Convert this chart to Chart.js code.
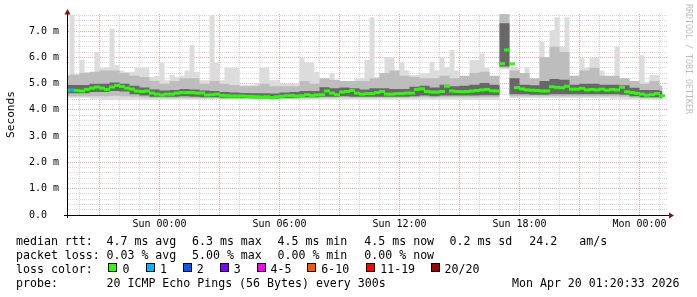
<!DOCTYPE html>
<html>
<head>
<meta charset="utf-8">
<script src="https://cdn.jsdelivr.net/npm/chart.js@4/dist/chart.umd.min.js"></script>
<style>
  html, body { margin: 0; padding: 0; background: #fff; }
  #wrap { position: relative; width: 697px; height: 297px; background: #fff; overflow: hidden; }
  #c { position: absolute; left: 0; top: 0; display: block; }
  .t { position: absolute; font-family: "DejaVu Sans Mono", monospace; font-size: 11.6px; line-height: 14px; height: 14px; white-space: pre; color: #000; }
  .box { position: absolute; width: 7px; height: 7px; border: 1px solid #000; }
  #wm { position: absolute; left: 684px; top: 4px; font-family: "DejaVu Sans Mono", monospace; font-size: 8.3px; line-height: 9px; color: #bcbcbc; writing-mode: vertical-rl; white-space: pre; }
</style>
</head>
<body>
<div id="wrap">
  <canvas id="c" width="697" height="297"></canvas>
  <div id="wm">RRDTOOL / TOBI OETIKER</div>
  <div id="legend"></div>
</div>
<script>
// ---------- time grid (hours relative to Sun 00:00) ----------
const T0 = -5;          // first step start
const T_END = 25.15;    // last sample
const FINE_STEP = 0.25; // median / max series step
const BAND_STEP = 0.5;  // smoke band series step
const X_MIN = -4.625, X_MAX = 25.425;

// ---------- median RTT (ms), one value per 15 min ----------
const medianMs = [
 4.75,4.75,4.76,4.74,4.72,4.78,4.83,4.87,4.83,4.78,
 4.87,4.93,4.89,4.83,4.79,4.72,4.70,4.72,4.64,4.60,
 4.57,4.60,4.60,4.64,4.66,4.66,4.66,4.64,4.64,4.57,
 4.58,4.60,4.55,4.54,4.53,4.53,4.53,4.52,4.51,4.50,
 4.49,4.50,4.47,4.50,4.52,4.54,4.55,4.53,4.54,4.58,
 4.55,4.57,4.58,4.72,4.64,4.58,4.68,4.70,4.74,4.64,
 4.60,4.62,4.62,4.66,4.70,4.60,4.60,4.62,4.62,4.64,
 4.64,4.78,4.80,4.70,4.68,4.68,4.70,4.90,4.72,4.70,
 4.69,4.70,4.72,4.74,4.76,4.78,4.73,4.72,5.76,6.28,
 5.75,4.85,4.80,4.76,4.75,4.74,4.72,4.72,4.88,4.86,
 4.84,4.90,4.79,4.79,4.82,4.76,4.78,4.76,4.79,4.75,
 4.78,4.76,4.86,4.69,4.66,4.63,4.60,4.56,4.58,4.62,
 4.54];

// ---------- max RTT (ms), one value per 15 min ----------
const maxMs = [
 5.33,5.33,7.60,5.25,5.90,5.44,5.44,6.20,5.60,5.63,
 7.10,5.70,5.50,5.44,5.44,5.60,5.60,5.60,5.25,5.30,
 5.80,5.13,5.33,5.25,5.30,5.50,6.47,5.44,5.13,5.13,
 7.60,5.80,5.13,5.60,5.60,5.60,4.95,4.95,4.95,5.00,
 5.60,5.60,5.13,5.13,5.00,5.00,5.00,5.00,5.97,5.80,
 5.80,5.44,5.13,5.13,5.40,5.06,5.06,5.00,5.00,5.20,
 5.20,5.90,7.53,5.25,5.25,6.00,6.00,5.50,5.83,5.50,
 5.33,5.33,5.40,5.40,5.83,5.50,6.00,5.63,6.28,5.50,
 5.25,5.25,5.90,5.90,6.15,5.60,5.25,5.25,7.70,7.70,
 5.63,5.63,5.00,5.63,5.13,5.13,6.58,5.97,7.03,7.53,
 6.40,7.53,5.25,5.25,5.97,5.60,5.97,5.97,5.50,5.20,
 5.20,6.40,5.20,5.20,5.00,5.00,6.08,5.06,5.33,5.33,
 4.95];

// ---------- smoke bands (ms), one value per 30 min ----------
const minMs = [
 4.46,4.46,4.46,4.42,4.38,4.38,4.38,4.38,4.38,4.38,
 4.40,4.40,4.40,4.40,4.42,4.42,4.40,4.40,4.40,4.40,
 4.40,4.38,4.40,4.40,4.40,4.40,4.40,4.40,4.40,4.40,
 4.40,4.40,4.40,4.40,4.40,4.40,4.40,4.40,4.40,4.40,
 4.38,4.38,4.38,4.38,5.55,4.45,4.45,4.45,4.45,4.45,
 4.45,4.45,4.45,4.45,4.45,4.42,4.40,4.40,4.40,4.40,
 4.40];
const loMs = [
 4.52,4.52,4.52,4.52,4.52,4.54,4.52,4.50,4.47,4.45,
 4.44,4.44,4.45,4.44,4.44,4.44,4.42,4.42,4.42,4.42,
 4.42,4.41,4.42,4.42,4.44,4.44,4.46,4.46,4.47,4.46,
 4.46,4.46,4.46,4.46,4.46,4.47,4.48,4.47,4.48,4.48,
 4.47,4.47,4.48,4.48,5.60,4.52,4.52,4.52,4.52,4.52,
 4.52,4.52,4.52,4.52,4.52,4.52,4.50,4.46,4.44,4.44,
 4.42];
const q1Ms = [
 4.63,4.63,4.63,4.68,4.68,4.72,4.70,4.60,4.55,4.50,
 4.50,4.50,4.52,4.50,4.48,4.48,4.46,4.46,4.45,4.44,
 4.44,4.43,4.45,4.46,4.48,4.48,4.50,4.50,4.52,4.50,
 4.50,4.50,4.50,4.50,4.50,4.52,4.55,4.52,4.55,4.55,
 4.55,4.55,4.56,4.56,5.65,4.60,4.60,4.58,4.58,4.60,
 4.60,4.60,4.60,4.60,4.60,4.60,4.58,4.52,4.48,4.48,
 4.46];
const q3Ms = [
 4.95,4.95,4.95,5.00,5.00,5.04,5.00,4.92,4.85,4.78,
 4.74,4.76,4.80,4.78,4.74,4.72,4.68,4.66,4.64,4.63,
 4.63,4.62,4.66,4.68,4.72,4.72,4.86,4.82,4.85,4.82,
 4.78,4.82,4.82,4.80,4.80,4.88,4.92,4.85,4.96,4.90,
 4.92,4.96,5.02,4.96,7.30,5.20,4.96,4.94,5.10,5.18,
 5.15,4.96,5.00,5.00,4.96,4.96,4.94,4.84,4.76,4.76,
 4.72];
const hiMs = [
 5.30,5.35,5.40,5.45,5.50,5.50,5.40,5.30,5.25,5.10,
 5.00,5.10,5.20,5.20,5.00,5.10,5.00,4.95,4.90,4.90,
 5.00,4.90,4.90,4.90,5.10,5.00,5.20,5.15,5.10,5.10,
 5.10,5.20,5.40,5.50,5.30,5.25,5.20,5.20,5.30,5.20,
 5.30,5.40,5.45,5.30,7.65,5.50,5.40,5.20,6.00,6.40,
 6.20,5.30,5.50,5.60,5.30,5.30,5.20,5.10,5.00,5.10,
 4.90];

// ---------- packet loss events (start of the 15-min step) ----------
const lossTimes  = [-4.5];
const lossCounts = [1];
const lossLabels = ['0','1','2','3','4-5','6-10','11-19','20/20'];
const lossColors = ['#26ff00','#00b8ff','#0059ff','#7e00ff','#ff00ff','#ff5500','#ff0000','#a10000'];

// ---------- axis labels ----------
const yLabelValues = [0,1,2,3,4,5,6,7];
const yLabelText   = ['0.0','1.0 m','2.0 m','3.0 m','4.0 m','5.0 m','6.0 m','7.0 m'];
const xLabelHours  = [0,6,12,18,24];
const xLabelText   = ['Sun 00:00','Sun 06:00','Sun 12:00','Sun 18:00','Mon 00:00'];

// ---------- legend texts ----------
const legendRows = [
  [[16,'median rtt:'],[106.5,'4.7 ms avg'],[192,'6.3 ms max'],[277.5,'4.5 ms min'],[364.3,'4.5 ms now'],[449.5,'0.2 ms sd'],[529.3,'24.2'],[579.3,'am/s']],
  [[16,'packet loss:'],[106.5,'0.03 % avg'],[192,'5.00 % max'],[277.5,'0.00 % min'],[364.3,'0.00 % now']],
  [[16,'loss color:']],
  [[16,'probe:'],[106.5,'20 ICMP Echo Pings (56 Bytes) every 300s'],[512,'Mon Apr 20 01:20:33 2026']]
];
const rowTops = [234, 248, 262, 276];
const lossBoxX  = [108,146,183,219.5,257,307,366,431];
const lossTextX = [122.5,160,196.8,233.8,270.5,321.2,380.2,444.5];

// build legend (HTML text)
const lg = document.getElementById('legend');
legendRows.forEach((row, r) => {
  row.forEach(([x, s]) => {
    const d = document.createElement('div');
    d.className = 't'; d.style.left = x + 'px'; d.style.top = rowTops[r] + 'px';
    d.textContent = s; lg.appendChild(d);
  });
});
lossLabels.forEach((lab, k) => {
  const b = document.createElement('div');
  b.className = 'box'; b.style.left = lossBoxX[k] + 'px'; b.style.top = '263px';
  b.style.background = lossColors[k]; lg.appendChild(b);
  const d = document.createElement('div');
  d.className = 't'; d.style.left = lossTextX[k] + 'px'; d.style.top = rowTops[2] + 'px';
  d.textContent = lab; lg.appendChild(d);
});

// ---------- helpers ----------
function pts(step, vals) {
  const out = vals.map((v, i) => ({x: T0 + step * i, y: v}));
  out.push({x: T_END, y: vals[vals.length - 1]});
  return out;
}
// median drawn as short horizontal dashes, one per step (centred in its step)
function stepMarks(step, vals) {
  return vals.map((v, i) => ({x: T0 + step * i + step / 2, y: v, start: T0 + step * i}));
}
function lossColorAt(t) {
  for (let k = 0; k < lossTimes.length; k++) {
    if (Math.abs(lossTimes[k] - t) < 1e-6) {
      const c = lossCounts[k];
      const idx = c <= 0 ? 0 : c === 1 ? 1 : c === 2 ? 2 : c === 3 ? 3 : c <= 5 ? 4 : c <= 10 ? 5 : c <= 19 ? 6 : 7;
      return lossColors[idx];
    }
  }
  return lossColors[0];
}
const isInt = v => Math.abs(v - Math.round(v)) < 1e-6;

const MAJOR = 'rgba(230,130,130,0.7)';
const MINOR = 'rgba(200,200,200,0.75)';
const FONT = 'DejaVu Sans Mono';
Chart.defaults.font.family = FONT;

const arrows = {
  id: 'arrows',
  afterDraw(chart) {
    const {ctx, chartArea: {left, right, top, bottom}} = chart;
    ctx.save();
    ctx.strokeStyle = '#000'; ctx.lineWidth = 1;
    ctx.beginPath();
    ctx.moveTo(left - 3, bottom + 0.5); ctx.lineTo(right + 2, bottom + 0.5);
    ctx.moveTo(left + 0.5, bottom + 3); ctx.lineTo(left + 0.5, top - 2);
    ctx.stroke();
    ctx.fillStyle = '#8a1010';
    ctx.beginPath();
    ctx.moveTo(left + 0.5, top - 5); ctx.lineTo(left - 2.5, top + 0.5); ctx.lineTo(left + 3.5, top + 0.5); ctx.closePath();
    ctx.fill();
    ctx.beginPath();
    ctx.moveTo(right + 6, bottom + 0.5); ctx.lineTo(right + 1, bottom - 2.5); ctx.lineTo(right + 1, bottom + 3.5); ctx.closePath();
    ctx.fill();
    ctx.restore();
  }
};

const band = (data, color) => ({data, stepped: true, borderWidth: 0, pointRadius: 0, fill: '+1', backgroundColor: color, borderColor: 'rgba(0,0,0,0)'});
const edge = (data) => ({data, stepped: true, borderWidth: 0, pointRadius: 0, fill: false, borderColor: 'rgba(0,0,0,0)'});

new Chart(document.getElementById('c').getContext('2d'), {
  type: 'line',
  data: {
    datasets: [
      {label: 'median', data: stepMarks(FINE_STEP, medianMs), showLine: false, fill: false,
       pointStyle: 'line', pointRadius: 3, pointHoverRadius: 3, pointBorderWidth: 3,
       pointBorderColor: c => (c.raw ? lossColorAt(c.raw.start) : lossColors[0])},
      band(pts(BAND_STEP, q3Ms), '#686868'),
      edge(pts(BAND_STEP, q1Ms)),
      band(pts(BAND_STEP, hiMs), '#bdbdbd'),
      edge(pts(BAND_STEP, loMs)),
      band(pts(FINE_STEP, maxMs), '#dcdcdc'),
      edge(pts(BAND_STEP, minMs))
    ]
  },
  options: {
    responsive: false,
    animation: false,
    events: [],
    layout: {padding: {left: 0, right: 29, top: 14, bottom: 62}},
    plugins: {legend: {display: false}, tooltip: {enabled: false}},
    scales: {
      x: {
        type: 'linear', min: X_MIN, max: X_MAX, offset: false,
        afterBuildTicks: s => { const t = []; for (let h = -4; h <= 25; h++) t.push({value: h}); s.ticks = t; },
        afterFit: s => { s.height = 20; },
        grid: {drawTicks: false, lineWidth: 1, color: c => (c.tick && ((c.tick.value % 3) + 3) % 3 === 0) ? MAJOR : MINOR},
        border: {display: true, color: '#000', width: 1, dash: [1, 1]},
        ticks: {
          autoSkip: false, maxRotation: 0, minRotation: 0, padding: 3, color: '#000',
          font: {family: FONT, size: 10},
          callback: v => { const k = xLabelHours.indexOf(Math.round(v)); return (isInt(v) && k >= 0) ? xLabelText[k] : ''; }
        }
      },
      y: {
        type: 'linear', min: 0, max: 7.65,
        afterBuildTicks: s => { const t = []; for (let k = 0; k <= 38; k++) t.push({value: k / 5}); s.ticks = t; },
        afterFit: s => { s.width = 67; },
        grid: {drawTicks: false, lineWidth: 1, color: c => (c.tick && isInt(c.tick.value)) ? MAJOR : MINOR},
        border: {display: true, color: '#000', width: 1, dash: [1, 1]},
        title: {display: true, text: 'Seconds', color: '#000', font: {family: FONT, size: 11.2}, padding: {top: 4, bottom: 4}},
        ticks: {
          autoSkip: false, padding: 8, color: '#000', font: {family: FONT, size: 10},
          callback: v => { if (!isInt(v)) return ''; const k = yLabelValues.indexOf(Math.round(v)); return k < 0 ? '' : (k === 0 ? yLabelText[k] + '  ' : yLabelText[k]); }
        }
      }
    }
  },
  plugins: [arrows]
});
</script>
</body>
</html>
